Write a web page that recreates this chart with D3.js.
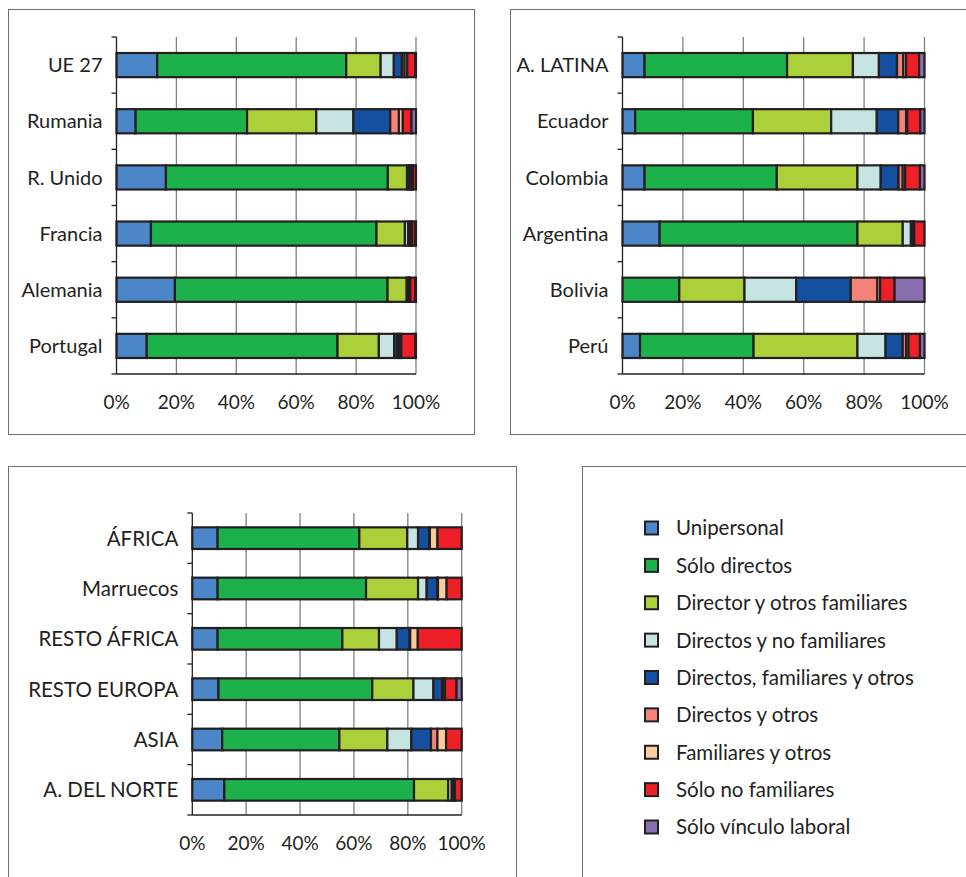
<!DOCTYPE html>
<html><head><meta charset="utf-8">
<script src="https://cdn.jsdelivr.net/npm/d3@7/dist/d3.min.js"></script>
<style>
html,body{margin:0;padding:0;background:#fff;}
svg text{font-family:Lato,"Open Sans",sans-serif;fill:#231f20;}
</style></head>
<body>
<svg id="c" width="966" height="877"></svg>
<script>
const seriesNames = ["Unipersonal","Sólo directos","Director y otros familiares","Directos y no familiares","Directos, familiares y otros","Directos y otros","Familiares y otros","Sólo no familiares","Sólo vínculo laboral"];
const seriesColors = ["#4a86c8","#1db14b","#acd03a","#c6e4e2","#1550a0","#f4837a","#f9cc9d","#ee1f26","#8a6fb0"];
const tickLabels = ["0%","20%","40%","60%","80%","100%"];
const tickValues = [0,20,40,60,80,100];

// Panel 1: Europe
const euCategories = ["UE 27","Rumania","R. Unido","Francia","Alemania","Portugal"];
const euUnipersonal = [13.6, 6.4, 16.5, 11.5, 19.5, 10.1];
const euSoloDirectos = [63.1, 37.2, 74.1, 75.3, 71.0, 63.7];
const euDirectorFam = [11.5, 23.1, 6.4, 9.5, 6.4, 13.8];
const euDirNoFam = [4.4, 12.4, 0.6, 1.1, 0.4, 5.1];
const euDirFamOtros = [2.7, 12.3, 0.6, 0.7, 0.4, 1.0];
const euDirOtros = [0.9, 2.9, 0.4, 0.3, 0.2, 0.7];
const euFamOtros = [0.9, 1.3, 0.4, 0.3, 0.2, 0.7];
const euSoloNoFam = [2.7, 2.9, 1.0, 1.1, 1.7, 4.7];
const euVinculo = [0.2, 1.5, 0, 0.2, 0.2, 0.2];

// Panel 2: Latin America
const laCategories = ["A. LATINA","Ecuador","Colombia","Argentina","Bolivia","Perú"];
const laUnipersonal = [7.3, 4.2, 7.3, 12.3, 0, 5.8];
const laSoloDirectos = [47.2, 39.0, 43.8, 65.5, 18.8, 37.6];
const laDirectorFam = [21.8, 25.9, 26.7, 15.0, 21.6, 34.4];
const laDirNoFam = [8.6, 15.1, 7.7, 2.7, 17.1, 9.3];
const laDirFamOtros = [6.0, 7.1, 5.9, 0.5, 18.1, 5.7];
const laDirOtros = [2.1, 2.6, 1.4, 0.3, 8.8, 1.1];
const laFamOtros = [0.9, 0.4, 0.8, 0.3, 0.9, 0.8];
const laSoloNoFam = [4.3, 4.3, 4.9, 3.4, 4.8, 3.8];
const laVinculo = [1.8, 1.4, 1.5, 0, 9.9, 1.5];

// Panel 3: Africa, rest of Europe, Asia, North America
const afCategories = ["ÁFRICA","Marruecos","RESTO ÁFRICA","RESTO EUROPA","ASIA","A. DEL NORTE"];
const afUnipersonal = [9.4, 9.4, 9.4, 9.7, 11.1, 11.9];
const afSoloDirectos = [52.6, 55.1, 46.3, 57.1, 43.5, 70.4];
const afDirectorFam = [17.8, 19.3, 13.6, 15.3, 17.8, 12.7];
const afDirNoFam = [4.0, 3.2, 6.6, 7.4, 8.9, 1.3];
const afDirFamOtros = [4.1, 4.0, 4.8, 3.2, 7.3, 0.6];
const afDirOtros = [0.3, 0.2, 0.2, 0.6, 2.4, 0.3];
const afFamOtros = [2.8, 3.2, 2.8, 0.5, 3.2, 0.3];
const afSoloNoFam = [9.0, 5.6, 16.3, 4.3, 5.8, 2.5];
const afVinculo = [0, 0, 0, 1.9, 0, 0];

const svg = d3.select("#c");
const ink = "#231f20";

// panel frames
const frames = [
  {x:8.5, y:9.5, w:466, h:425},
  {x:510.5, y:9.5, w:470, h:425},
  {x:8.5, y:466.5, w:508, h:420},
  {x:582.5, y:466.5, w:400, h:420}
];
svg.selectAll("rect.frame").data(frames).join("rect").attr("class","frame")
  .attr("x",d=>d.x).attr("y",d=>d.y).attr("width",d=>d.w).attr("height",d=>d.h)
  .attr("fill","none").attr("stroke","#6d6e70").attr("stroke-width",1);

function panel(cfg){
  const series = cfg.series;
  const rows = cfg.categories.map((c,i)=>{
    const r = {cat:c};
    seriesNames.forEach((s,j)=>r[s]=series[j][i]);
    return r;
  });
  const x = d3.scaleLinear().domain([0,100]).range([cfg.x0, cfg.x1]);
  const y = d3.scaleBand().domain(cfg.categories).range([cfg.y0, cfg.y1]).paddingInner(0.57).paddingOuter(0.285);
  const g = svg.append("g");
  // gridlines
  g.selectAll("line.grid").data(tickValues.slice(1)).join("line")
    .attr("x1",d=>x(d)).attr("x2",d=>x(d)).attr("y1",cfg.y0).attr("y2",cfg.y1)
    .attr("stroke","#808080").attr("stroke-width",1.3);
  // stacked bars
  const stack = d3.stack().keys(seriesNames)(rows);
  stack.forEach((layer,j)=>{
    g.selectAll(null).data(layer.filter(d=>d[1]-d[0]>0)).join("rect")
      .attr("x",d=>x(d[0])).attr("width",d=>x(d[1])-x(d[0]))
      .attr("y",d=>y(d.data.cat)).attr("height",y.bandwidth())
      .attr("fill",seriesColors[j]).attr("stroke",ink).attr("stroke-width",2.2);
  });
  // y axis line with ticks at band boundaries
  const bounds = d3.range(cfg.categories.length+1).map(i=>cfg.y0 + i*(cfg.y1-cfg.y0)/cfg.categories.length);
  g.append("line").attr("x1",x(0)).attr("x2",x(0)).attr("y1",cfg.y0).attr("y2",cfg.y1).attr("stroke",ink).attr("stroke-width",1.3);
  g.selectAll("line.yt").data(bounds).join("line")
    .attr("x1",x(0)-5).attr("x2",x(0)).attr("y1",d=>d).attr("y2",d=>d).attr("stroke",ink).attr("stroke-width",1.3);
  // x axis baseline
  g.append("line").attr("x1",x(0)).attr("x2",x(100)).attr("y1",cfg.y1).attr("y2",cfg.y1).attr("stroke",ink).attr("stroke-width",1.3);
  // category labels
  g.selectAll("text.cat").data(cfg.categories).join("text")
    .attr("x",x(0)-14).attr("y",d=>y(d)+y.bandwidth()/2).attr("dy","0.36em")
    .attr("text-anchor","end").attr("font-size",cfg.fs).text(d=>d);
  // tick labels
  g.selectAll("text.tk").data(tickValues).join("text")
    .attr("x",d=>x(d)).attr("y",cfg.y1+28).attr("dy","0.36em")
    .attr("text-anchor","middle").attr("font-size",19).text((d,i)=>tickLabels[i]);
}

panel({categories:euCategories, series:[euUnipersonal,euSoloDirectos,euDirectorFam,euDirNoFam,euDirFamOtros,euDirOtros,euFamOtros,euSoloNoFam,euVinculo],
  x0:116.5, x1:416, y0:37, y1:374, fs:20});
panel({categories:laCategories, series:[laUnipersonal,laSoloDirectos,laDirectorFam,laDirNoFam,laDirFamOtros,laDirOtros,laFamOtros,laSoloNoFam,laVinculo],
  x0:622.5, x1:924.5, y0:37, y1:374, fs:20});
panel({categories:afCategories, series:[afUnipersonal,afSoloDirectos,afDirectorFam,afDirNoFam,afDirFamOtros,afDirOtros,afFamOtros,afSoloNoFam,afVinculo],
  x0:192.3, x1:461.7, y0:513, y1:815, fs:20.5});

// legend
const lg = svg.append("g");
const ly = d3.scalePoint().domain(seriesNames).range([528, 827]);
lg.selectAll("rect").data(seriesNames).join("rect")
  .attr("x",645).attr("y",d=>ly(d)-6.5).attr("width",13).attr("height",13)
  .attr("fill",(d,i)=>seriesColors[i]).attr("stroke",ink).attr("stroke-width",2);
lg.selectAll("text").data(seriesNames).join("text")
  .attr("x",676).attr("y",d=>ly(d)).attr("dy","0.36em").attr("font-size",20.5).text(d=>d);
</script>
</body></html>
